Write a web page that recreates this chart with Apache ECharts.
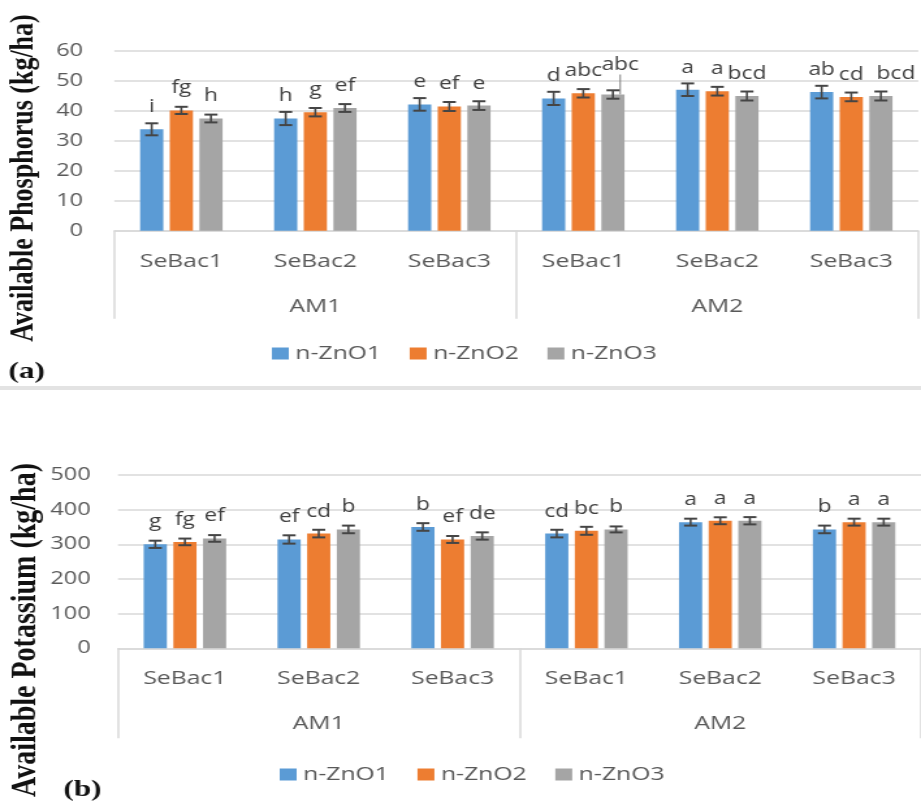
<!DOCTYPE html>
<html>
<head>
<meta charset="utf-8">
<script src="https://cdn.jsdelivr.net/npm/echarts@6/dist/echarts.min.js"></script>
<style>
  html, body { margin: 0; padding: 0; background: #fff; overflow: hidden; }
  #wrap { width: 921px; height: 807px; overflow: hidden; }
  /* the figure is laid out on a narrower canvas and widened horizontally */
  #chart { width: 708px; height: 807px; transform: scaleX(1.300847); transform-origin: 0 0; }
</style>
</head>
<body>
<div id="wrap"><div id="chart"></div></div>
<script>
// ---- data ----
const treatments = ['SeBac1', 'SeBac2', 'SeBac3', 'SeBac1', 'SeBac2', 'SeBac3'];
const manures = ['AM1', 'AM2'];
const seriesNames = ['n-ZnO1', 'n-ZnO2', 'n-ZnO3'];

// (a) available phosphorus, kg/ha
const phosZnO1 = [33.8, 37.4, 42.1, 44.1, 47.0, 46.2];
const phosZnO2 = [40.1, 39.5, 41.4, 45.8, 46.5, 44.6];
const phosZnO3 = [37.4, 40.9, 41.7, 45.4, 44.9, 44.9];
const phosErrZnO1 = [2.0, 2.2, 2.1, 2.2, 2.1, 2.1];
const phosErrZnO2 = [1.2, 1.4, 1.5, 1.4, 1.45, 1.45];
const phosErrZnO3 = [1.3, 1.3, 1.45, 1.4, 1.5, 1.5];
const phosLetZnO1 = ['i', 'h', 'e', 'd', 'a', 'ab'];
const phosLetZnO2 = ['fg', 'g', 'ef', 'abc', 'a', 'cd'];
const phosLetZnO3 = ['h', 'ef', 'e', 'abc', 'bcd', 'bcd'];
const phosTicks = { min: 0, max: 60, step: 10 };

// (b) available potassium, kg/ha
const potZnO1 = [300, 314, 350, 331, 364, 343];
const potZnO2 = [307, 331, 314, 339, 368, 364];
const potZnO3 = [317, 343, 324, 343, 368, 364];
const potErrZnO1 = [10.5, 12, 11, 11, 10, 11];
const potErrZnO2 = [9.6, 11, 10, 11.5, 10, 10];
const potErrZnO3 = [9.6, 11, 10.5, 8.6, 10.5, 10];
const potLetZnO1 = ['g', 'ef', 'b', 'cd', 'a', 'b'];
const potLetZnO2 = ['fg', 'cd', 'ef', 'bc', 'a', 'a'];
const potLetZnO3 = ['ef', 'b', 'de', 'b', 'a', 'a'];
const potTicks = { min: 0, max: 500, step: 100 };

// ---- styling ----
const COLORS = ['#5B9BD5', '#ED7D31', '#A5A5A5'];
const GRID_LINE = '#D9D9D9';
const AXIS_TEXT = '#595959';
const LABEL_TEXT = '#404040';
const ERR_COLOR = '#454545';
const SANS = 'Open Sans';
const SERIF = 'Liberation Serif';
const BAR_W = 17.8;
const BAR_GAP = 0.28;
const BAR_STEP = BAR_W * (1 + BAR_GAP);
const CAP = 5;

// hand-placed letter labels that would otherwise collide (keyed by bar index)
const NUDGE_NONE = {};
const NUDGE_PHOS_ZNO3 = { 3: { dx: 5.6, dy: -7, line: true }, 5: { dx: 11.5, dy: 0 } };

function barSeries(name, idx, panel, values, letters, nudges) {
  return {
    type: 'bar', name: name, xAxisIndex: panel * 2, yAxisIndex: panel,
    data: values.map((v, i) => (nudges[i] && nudges[i].line
      ? { value: v, labelLine: { show: true } }
      : v)),
    barWidth: BAR_W, barGap: (BAR_GAP * 100) + '%',
    itemStyle: { color: COLORS[idx] },
    label: {
      show: true, position: 'top', distance: 13,
      formatter: p => letters[p.dataIndex],
      color: LABEL_TEXT, fontSize: 17.5, fontFamily: SANS
    },
    labelLine: { show: false, lineStyle: { color: '#7F7F7F', width: 1 } },
    labelLayout: p => (nudges[p.dataIndex] ? { dx: nudges[p.dataIndex].dx, dy: nudges[p.dataIndex].dy } : {}),
    emphasis: { disabled: true }
  };
}

function errorSeries(idx, panel, values, errs) {
  return {
    type: 'custom', name: 'err' + panel + idx, xAxisIndex: panel * 2, yAxisIndex: panel, z: 5,
    silent: true,
    data: values.map((v, i) => [i, v, errs[i]]),
    encode: { x: 0, y: 1 },
    renderItem: function (params, api) {
      const i = api.value(0), m = api.value(1), e = api.value(2);
      const hi = api.coord([i, m + e]);
      const lo = api.coord([i, m - e]);
      const x = hi[0] + (idx - 1) * BAR_STEP;
      return {
        type: 'group',
        children: [
          { type: 'line', shape: { x1: x, y1: hi[1], x2: x, y2: lo[1] }, style: { stroke: ERR_COLOR, lineWidth: 1.6 } },
          { type: 'line', shape: { x1: x - CAP, y1: hi[1], x2: x + CAP, y2: hi[1] }, style: { stroke: ERR_COLOR, lineWidth: 2 } },
          { type: 'line', shape: { x1: x - CAP, y1: lo[1], x2: x + CAP, y2: lo[1] }, style: { stroke: ERR_COLOR, lineWidth: 2 } }
        ]
      };
    }
  };
}

function innerAxis(grid) {
  return {
    type: 'category', gridIndex: grid, data: treatments, position: 'bottom',
    axisLine: { show: true, lineStyle: { color: GRID_LINE, width: 1.5 } },
    axisTick: { show: false },
    axisLabel: { margin: 21, color: AXIS_TEXT, fontSize: 19, fontFamily: SANS, interval: 0 }
  };
}
function outerAxis(grid, tickLen) {
  return {
    type: 'category', gridIndex: grid, data: manures, position: 'bottom',
    axisLine: { show: false },
    axisTick: { show: true, length: tickLen, lineStyle: { color: GRID_LINE, width: 1.5 } },
    axisLabel: { margin: 66, color: AXIS_TEXT, fontSize: 19, fontFamily: SANS, interval: 0 }
  };
}
function valueAxis(grid, t, margin) {
  return {
    type: 'value', gridIndex: grid, min: t.min, max: t.max, interval: t.step,
    axisLine: { show: false }, axisTick: { show: false },
    splitLine: { lineStyle: { color: GRID_LINE, width: 1.5 } },
    axisLabel: { margin: margin, color: AXIS_TEXT, fontSize: 18, fontFamily: SANS }
  };
}
function legendAt(left, top) {
  return {
    data: seriesNames, left: left, top: top, padding: 0,
    icon: 'rect', itemWidth: 13, itemHeight: 12, itemGap: 22,
    selectedMode: false,
    textStyle: { color: AXIS_TEXT, fontSize: 19, fontFamily: SANS }
  };
}

const chart = echarts.init(document.getElementById('chart'));
chart.setOption({
  animation: false,
  backgroundColor: '#fff',
  grid: [
    { left: 87.9, right: 2.1, top: 50.7, height: 180 },
    { left: 90.7, right: -1.2, top: 475, height: 173.3 }
  ],
  xAxis: [innerAxis(0), outerAxis(0, 88), innerAxis(1), outerAxis(1, 90)],
  yAxis: [valueAxis(0, phosTicks, 24), valueAxis(1, potTicks, 21)],
  legend: [legendAt(209, 344), legendAt(215, 765)],
  graphic: [
    { type: 'text', x: 18.4, y: 178, rotation: Math.PI / 2,
      style: { text: 'Available Phosphorus (kg/ha)', fontFamily: SERIF, fontWeight: 'bold', fontSize: 26, fill: '#111', align: 'center', verticalAlign: 'middle' } },
    { type: 'text', x: 20, y: 630, rotation: Math.PI / 2,
      style: { text: 'Available Potassium (kg/ha)', fontFamily: SERIF, fontWeight: 'bold', fontSize: 28, fill: '#111', align: 'center', verticalAlign: 'middle' } },
    { type: 'text', x: 20.4, y: 372,
      style: { text: '(a)', fontFamily: SERIF, fontWeight: 'bold', fontSize: 24, fill: '#111', align: 'center', verticalAlign: 'middle' } },
    { type: 'text', x: 63.4, y: 790,
      style: { text: '(b)', fontFamily: SERIF, fontWeight: 'bold', fontSize: 24, fill: '#111', align: 'center', verticalAlign: 'middle' } },
    { type: 'rect', shape: { x: 0, y: 386, width: 708, height: 4 }, style: { fill: '#E3E3E3' } }
  ],
  series: [
    barSeries(seriesNames[0], 0, 0, phosZnO1, phosLetZnO1, NUDGE_NONE),
    barSeries(seriesNames[1], 1, 0, phosZnO2, phosLetZnO2, NUDGE_NONE),
    barSeries(seriesNames[2], 2, 0, phosZnO3, phosLetZnO3, NUDGE_PHOS_ZNO3),
    errorSeries(0, 0, phosZnO1, phosErrZnO1),
    errorSeries(1, 0, phosZnO2, phosErrZnO2),
    errorSeries(2, 0, phosZnO3, phosErrZnO3),
    barSeries(seriesNames[0], 0, 1, potZnO1, potLetZnO1, NUDGE_NONE),
    barSeries(seriesNames[1], 1, 1, potZnO2, potLetZnO2, NUDGE_NONE),
    barSeries(seriesNames[2], 2, 1, potZnO3, potLetZnO3, NUDGE_NONE),
    errorSeries(0, 1, potZnO1, potErrZnO1),
    errorSeries(1, 1, potZnO2, potErrZnO2),
    errorSeries(2, 1, potZnO3, potErrZnO3)
  ]
});
</script>
</body>
</html>
